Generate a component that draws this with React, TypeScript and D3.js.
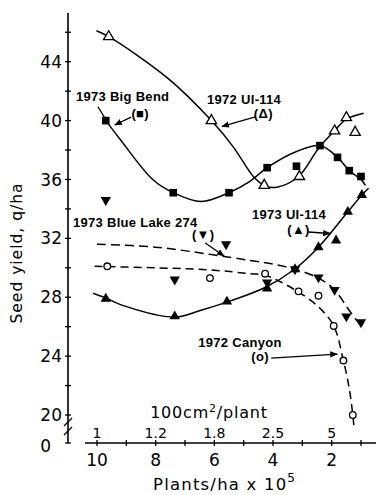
import React from 'react';
import * as d3 from 'd3';

// x: plants/ha x 10^5, y: seed yield q/ha
const bigBend73X = [9.7, 7.4, 5.5, 4.2, 3.2, 2.4, 1.8, 1.4, 1.0];
const bigBend73Y = [40.0, 35.1, 35.1, 36.8, 36.9, 38.3, 37.5, 36.6, 36.2];
const bigBend73FitX = [9.7, 9.2, 8.1, 7.4, 6.45, 5.5, 4.8, 4.2, 3.2, 2.4, 1.8, 1.4, 1.0, 0.85];
const bigBend73FitY = [40.0, 38.7, 36.0, 35.1, 34.5, 35.1, 35.85, 36.8, 37.9, 38.3, 37.5, 36.6, 36.0, 35.6];

const ui72X = [9.6, 6.1, 4.3, 3.1, 1.9, 1.5, 1.2];
const ui72Y = [45.7, 40.0, 35.6, 36.2, 39.3, 40.2, 39.2];
const ui72FitX = [10.02, 9.6, 7.6, 6.1, 5.35, 4.67, 4.27, 3.87, 3.13, 2.45, 1.88, 1.5, 0.91];
const ui72FitY = [46.1, 45.7, 42.9, 40.0, 38.2, 36.2, 35.56, 35.47, 36.2, 38.1, 39.36, 40.1, 40.5];

const blueLake73X = [9.7, 7.35, 5.6, 4.2, 3.25, 2.45, 1.9, 1.5, 1.0];
const blueLake73Y = [34.6, 29.2, 31.6, 29.0, 29.9, 29.35, 28.5, 26.7, 26.3];
const blueLake73FitX = [10.0, 8.0, 6.1, 4.78, 4.0, 3.25, 2.45, 1.9, 1.4, 0.91];
const blueLake73FitY = [31.6, 31.4, 30.9, 30.5, 30.25, 29.9, 29.3, 28.5, 27.1, 25.8];

const canyon72X = [9.65, 6.15, 4.27, 3.13, 2.45, 1.93, 1.6, 1.28];
const canyon72Y = [30.1, 29.3, 29.6, 28.4, 28.1, 26.05, 23.7, 20.0];
const canyon72FitX = [10.08, 8.0, 6.1, 4.78, 4.27, 3.75, 3.13, 2.45, 1.93, 1.6, 1.4, 1.28, 1.24];
const canyon72FitY = [30.1, 30.0, 29.85, 29.6, 29.5, 29.05, 28.35, 27.35, 26.05, 23.7, 21.8, 20.0, 19.2];

const ui73X = [9.7, 7.35, 5.57, 4.2, 3.25, 2.45, 1.85, 1.45, 0.97];
const ui73Y = [27.9, 26.7, 27.7, 28.6, 29.9, 31.4, 31.85, 33.8, 34.95];
const ui73FitX = [10.13, 9.7, 9.2, 7.35, 6.48, 5.6, 4.27, 3.3, 2.45, 1.45, 0.97, 0.74];
const ui73FitY = [28.27, 27.95, 27.5, 26.65, 27.1, 27.65, 28.66, 29.85, 31.4, 33.8, 34.95, 35.4];

const yLabelTicks = [20, 24, 28, 32, 36, 40, 44];
const yMinorTicks = [22, 26, 30, 34, 38, 42, 46];
const xTicks = [10, 9, 8, 7, 6, 5, 4, 3, 2, 1];
const xLabelTicks = [10, 8, 6, 4, 2];
const spacingLabels = ['1', '1.2', '1.8', '2.5', '5'];

// callouts: [text, x, y, anchor]
const callouts: [string, number, number, string][] = [
  ['1973 Big Bend', 10.72, 41.3, 'start'],
  ['(■)', 8.53, 40.2, 'middle'],
  ['1972 UI-114', 6.25, 41.1, 'start'],
  ['(Δ)', 4.33, 40.15, 'middle'],
  ['1973 Blue Lake 274', 10.82, 32.75, 'start'],
  ['(▼)', 6.38, 31.95, 'middle'],
  ['1973 UI-114', 4.72, 33.3, 'start'],
  ['(▲)', 3.13, 32.3, 'middle'],
  ['1972 Canyon', 6.55, 24.65, 'start'],
  ['(o)', 4.44, 23.7, 'middle'],
];
// leader lines: [x1, y1, x2, y2, arrow]
const leaders: [number, number, number, number, boolean][] = [
  [9.97, 40.94, 9.74, 40.2, false],
  [8.84, 40.24, 9.39, 39.7, true],
  [4.6, 40.25, 5.74, 39.6, true],
  [6.31, 31.68, 5.67, 30.8, true],
  [2.8, 32.43, 2.05, 32.33, true],
  [4.06, 23.87, 1.81, 24.14, true],
];

const zip = (xs: number[], ys: number[]) => xs.map((v, i) => [v, ys[i]] as [number, number]);

export default function App() {
  const W = 376;
  const H = 495;
  const x = d3.scaleLinear().domain([10, 1]).range([97, 361]);
  const y = d3.scaleLinear().domain([20, 44]).range([415, 61.7]);
  const axisX = 68;
  const axisY = 443;

  const line = d3
    .line<[number, number]>()
    .x((d) => x(d[0]))
    .y((d) => y(d[1]))
    .curve(d3.curveCatmullRom.alpha(0.5));

  const tri = d3.symbol(d3.symbolTriangle, 46)() as string;
  const sq = d3.symbol(d3.symbolSquare, 58)() as string;

  const font = '"Liberation Sans", Arial, sans-serif';
  const tickFont = '"DejaVu Sans", sans-serif';

  return (
    <svg
      width={W}
      height={H}
      style={{ position: 'absolute', left: 0, top: 0, background: '#fff' }}
    >
      <defs>
        <marker id="arr" viewBox="0 0 10 10" refX="9" refY="5" markerWidth="6" markerHeight="6" orient="auto">
          <path d="M0,1 L10,5 L0,9 z" fill="#000" />
        </marker>
      </defs>

      {/* y axis */}
      <line x1={axisX} x2={axisX} y1={13} y2={axisY} stroke="#000" strokeWidth={1.6} />
      {yLabelTicks.concat(yMinorTicks).map((t) => (
        <line key={'yt' + t} x1={axisX - 3} x2={axisX + 3} y1={y(t)} y2={y(t)} stroke="#000" strokeWidth={1.3} />
      ))}
      <line x1={axisX - 3} x2={axisX + 3} y1={axisY} y2={axisY} stroke="#000" strokeWidth={1.3} />
      {[422, 431].map((b) => (
        <line key={'br' + b} x1={axisX - 4} x2={axisX + 4} y1={b + 4} y2={b - 4} stroke="#000" strokeWidth={1.3} />
      ))}
      {yLabelTicks.map((t) => (
        <text key={'yl' + t} x={axisX - 6} y={y(t)} dy="0.36em" textAnchor="end" fontFamily={tickFont} fontSize={17}>
          {t}
        </text>
      ))}
      <text x={axisX - 17} y={axisY + 4} dy="0.3em" textAnchor="end" fontFamily={tickFont} fontSize={17}>
        0
      </text>
      <text
        transform={`translate(17,253) rotate(-90)`}
        textAnchor="middle"
        dy="0.35em"
        fontFamily={tickFont}
        fontSize={15.5}
        letterSpacing={1}
      >
        Seed yield, q/ha
      </text>

      {/* x axis */}
      <line x1={85} x2={376} y1={axisY} y2={axisY} stroke="#000" strokeWidth={1.6} />
      {xTicks.map((t) => (
        <line key={'xt' + t} x1={x(t)} x2={x(t)} y1={axisY - 3} y2={axisY + 3} stroke="#000" strokeWidth={1.3} />
      ))}
      {xLabelTicks.map((t) => (
        <text key={'xl' + t} x={x(t)} y={axisY + 23} textAnchor="middle" fontFamily={tickFont} fontSize={17}>
          {t}
        </text>
      ))}
      {xLabelTicks.map((t, i) => (
        <text key={'sl' + t} x={x(t)} y={axisY - 5} textAnchor="middle" fontFamily={tickFont} fontSize={14}>
          {spacingLabels[i]}
        </text>
      ))}
      <text x={209} y={418} textAnchor="middle" fontFamily={tickFont} fontSize={16} letterSpacing={0.8}>
        100cm<tspan dy={-6} fontSize={11}>2</tspan>
        <tspan dy={6}>/plant</tspan>
      </text>
      <text x={153} y={490} fontFamily={tickFont} fontSize={16.5} letterSpacing={1.2}>
        Plants/ha x 10<tspan dy={-8} fontSize={12}>5</tspan>
      </text>

      {/* fitted curves */}
      <path d={line(zip(ui72FitX, ui72FitY)) || ''} fill="none" stroke="#000" strokeWidth={1.5} />
      <path d={line(zip(bigBend73FitX, bigBend73FitY)) || ''} fill="none" stroke="#000" strokeWidth={1.5} />
      <path d={line(zip(ui73FitX, ui73FitY)) || ''} fill="none" stroke="#000" strokeWidth={1.5} />
      <path
        d={line(zip(blueLake73FitX, blueLake73FitY)) || ''}
        fill="none"
        stroke="#000"
        strokeWidth={1.5}
        strokeDasharray="9,5"
      />
      <path
        d={line(zip(canyon72FitX, canyon72FitY)) || ''}
        fill="none"
        stroke="#000"
        strokeWidth={1.5}
        strokeDasharray="8,5"
      />

      {/* points */}
      {zip(ui72X, ui72Y).map((d, i) => (
        <path key={'a' + i} d={tri} transform={`translate(${x(d[0])},${y(d[1])})`} fill="#fff" stroke="#000" strokeWidth={1.3} />
      ))}
      {zip(bigBend73X, bigBend73Y).map((d, i) => (
        <path key={'b' + i} d={sq} transform={`translate(${x(d[0])},${y(d[1])})`} fill="#000" />
      ))}
      {zip(blueLake73X, blueLake73Y).map((d, i) => (
        <path key={'c' + i} d={tri} transform={`translate(${x(d[0])},${y(d[1])}) rotate(180)`} fill="#000" />
      ))}
      {zip(ui73X, ui73Y).map((d, i) => (
        <path key={'d' + i} d={tri} transform={`translate(${x(d[0])},${y(d[1])})`} fill="#000" />
      ))}
      {zip(canyon72X, canyon72Y).map((d, i) => (
        <circle key={'e' + i} cx={x(d[0])} cy={y(d[1])} r={3.3} fill="#fff" stroke="#000" strokeWidth={1.3} />
      ))}

      {/* callouts */}
      {leaders.map((l, i) => (
        <line
          key={'ld' + i}
          x1={x(l[0])}
          y1={y(l[1])}
          x2={x(l[2])}
          y2={y(l[3])}
          stroke="#000"
          strokeWidth={1.3}
          markerEnd={l[4] ? 'url(#arr)' : undefined}
        />
      ))}
      {callouts.map((c, i) => (
        <text
          key={'co' + i}
          x={x(c[1])}
          y={y(c[2])}
          textAnchor={c[3]}
          fontFamily={font}
          fontWeight="bold"
          fontSize={13}
          letterSpacing={0.3}
        >
          {c[0]}
        </text>
      ))}
    </svg>
  );
}
